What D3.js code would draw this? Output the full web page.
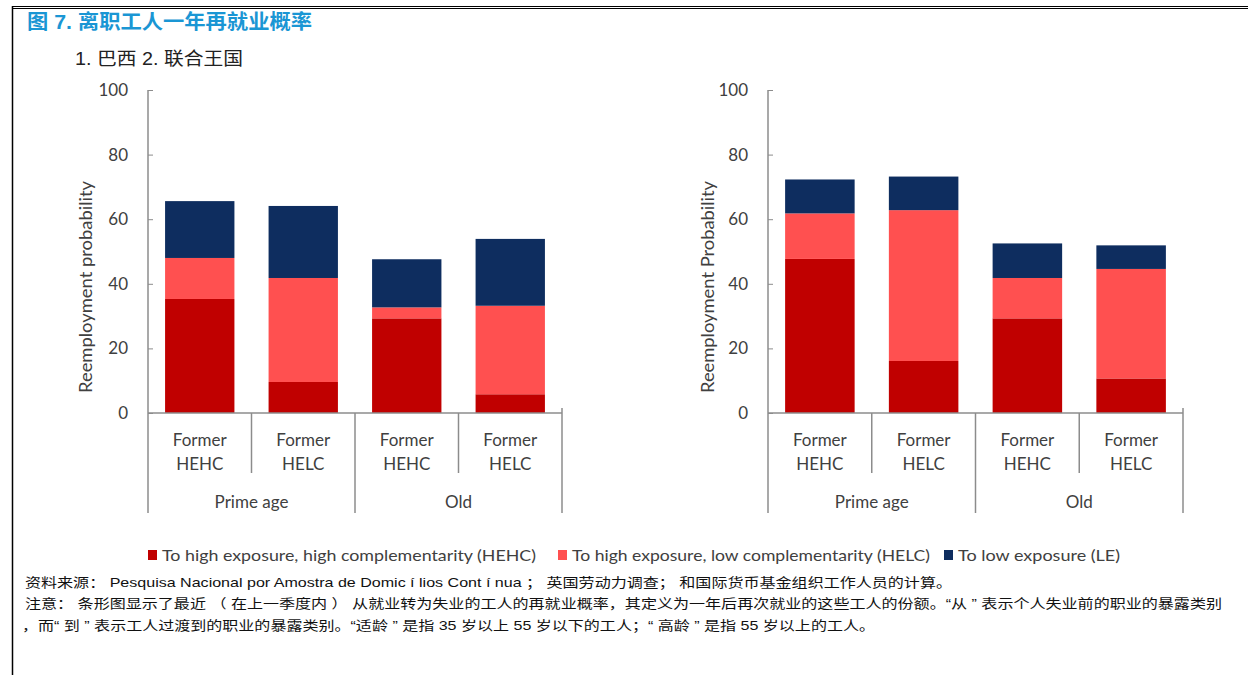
<!DOCTYPE html>
<html>
<head>
<meta charset="utf-8">
<script src="https://cdn.jsdelivr.net/npm/d3@7"></script>
<style>
  body { margin: 0; background: #fff; }
  svg text { font-family: Lato, "Open Sans", sans-serif; }
</style>
</head>
<body>
<svg id="chart" width="1248" height="675"></svg>
<script>
// categorieen en groepen
var categorieen = ["pHEHC", "pHELC", "oHEHC", "oHELC"];
var regel1 = ["Former", "Former", "Former", "Former"];
var regel2 = ["HEHC", "HELC", "HEHC", "HELC"];
var groepen = ["Prime age", "Old"];
var yTicks = [0, 20, 40, 60, 80, 100];

// Brazilie
var brazilieHEHC = [35.3, 9.6, 29.3, 5.8];
var brazilieHELC = [12.7, 32.2, 3.4, 27.4];
var brazilieLE = [17.6, 22.3, 14.9, 20.7];

// Verenigd Koninkrijk
var vkHEHC = [47.7, 16.1, 29.3, 10.7];
var vkHELC = [14.1, 46.7, 12.5, 33.9];
var vkLE = [10.5, 10.4, 10.7, 7.3];

var reeksen = ["HEHC", "HELC", "LE"];
var kleuren = {HEHC: "#c00000", HELC: "#ff5050", LE: "#0e2d5f"};
var legendaTekst = ["To high exposure, high complementarity (HEHC)",
                    "To high exposure, low complementarity (HELC)",
                    "To low exposure (LE)"];

var svg = d3.select("#chart");

// kader
svg.append("line").attr("x1", 12).attr("x2", 1248).attr("y1", 6.5).attr("y2", 6.5)
   .attr("stroke", "#000").attr("stroke-width", 1.2);
svg.append("line").attr("x1", 12).attr("x2", 1248).attr("y1", 8.5).attr("y2", 8.5)
   .attr("stroke", "#000").attr("stroke-width", 1.2);
svg.append("line").attr("x1", 12.5).attr("x2", 12.5).attr("y1", 6).attr("y2", 675)
   .attr("stroke", "#000").attr("stroke-width", 1.5);

// titel
svg.append("text")
   .attr("x", 27).attr("y", 29)
   .style("font-family", "'Liberation Sans', 'Noto Sans CJK SC', sans-serif")
   .attr("font-size", "20px").attr("font-weight", "bold")
   .attr("fill", "#1a96d4")
   .attr("textLength", 285).attr("lengthAdjust", "spacingAndGlyphs")
   .text("图 7. 离职工人一年再就业概率");

svg.append("text")
   .attr("x", 75).attr("y", 65)
   .style("font-family", "'Liberation Sans', 'Noto Sans CJK SC', sans-serif")
   .attr("font-size", "18px").attr("fill", "#222")
   .attr("textLength", 168).attr("lengthAdjust", "spacingAndGlyphs")
   .text("1. 巴西 2. 联合王国");

var y = d3.scaleLinear().domain([0, 100]).range([413, 90]);

function paneel(links, rechts, hehc, helc, le, yTitel, titelX) {
  var g = svg.append("g");
  var x = d3.scaleBand().domain(categorieen).range([links, rechts])
            .paddingInner(0.33).paddingOuter(0.165);

  var rijen = categorieen.map(function(c, i) {
    return {cat: c, HEHC: hehc[i], HELC: helc[i], LE: le[i]};
  });
  var stapels = d3.stack().keys(reeksen)(rijen);

  g.selectAll("g.laag")
   .data(stapels)
   .enter().append("g")
   .attr("class", "laag")
   .attr("fill", function(d) { return kleuren[d.key]; })
   .selectAll("rect")
   .data(function(d) { return d; })
   .enter().append("rect")
   .attr("x", function(d) { return x(d.data.cat); })
   .attr("y", function(d) { return y(d[1]); })
   .attr("width", x.bandwidth())
   .attr("height", function(d) { return y(d[0]) - y(d[1]); });

  // y-as
  var asY = d3.axisLeft(y).tickValues(yTicks).tickSize(-5).tickPadding(20);
  var ya = g.append("g")
     .attr("transform", "translate(" + links + ",0)")
     .call(asY);
  ya.select(".domain").remove();
  ya.selectAll("line").attr("stroke", "#8c8c8c");
  ya.selectAll("text").attr("font-size", "17px").attr("fill", "#404040")
    .style("font-family", "Lato, sans-serif");

  // aslijnen
  var grijs = "#8c8c8c";
  g.append("line").attr("x1", links).attr("x2", links).attr("y1", 90).attr("y2", 513)
   .attr("stroke", grijs).attr("stroke-width", 1.5);
  g.append("line").attr("x1", links).attr("x2", rechts).attr("y1", 413).attr("y2", 413)
   .attr("stroke", grijs).attr("stroke-width", 1.5);
  g.append("line").attr("x1", rechts).attr("x2", rechts).attr("y1", 408).attr("y2", 513)
   .attr("stroke", grijs).attr("stroke-width", 1.5);

  // scheidingslijnen tussen categorieen
  categorieen.forEach(function(c, i) {
    if (i == 0) return;
    var sx = x(c) - x.step() * x.paddingInner() / 2;
    g.append("line").attr("x1", sx).attr("x2", sx)
     .attr("y1", 413).attr("y2", i == 2 ? 513 : 473)
     .attr("stroke", grijs).attr("stroke-width", 1.5);
  });

  // categorie labels
  categorieen.forEach(function(c, i) {
    var cx = x(c) + x.bandwidth() / 2;
    g.append("text").attr("x", cx).attr("y", 446).attr("text-anchor", "middle")
     .attr("font-size", "17px").attr("fill", "#404040").text(regel1[i]);
    g.append("text").attr("x", cx).attr("y", 470).attr("text-anchor", "middle")
     .attr("font-size", "17px").attr("fill", "#404040").text(regel2[i]);
  });

  // groep labels
  groepen.forEach(function(gr, i) {
    var gx = (x(categorieen[i * 2]) + x(categorieen[i * 2 + 1]) + x.bandwidth()) / 2;
    g.append("text").attr("x", gx).attr("y", 508).attr("text-anchor", "middle")
     .attr("font-size", "17px").attr("fill", "#404040").text(gr);
  });

  // y-titel
  g.append("text")
   .attr("transform", "translate(" + titelX + ",287) rotate(-90)")
   .attr("text-anchor", "middle")
   .attr("font-size", "17px").attr("fill", "#404040")
   .attr("textLength", 212).attr("lengthAdjust", "spacingAndGlyphs")
   .text(yTitel);
}

paneel(148, 562, brazilieHEHC, brazilieHELC, brazilieLE, "Reemployment probability", 92);
paneel(768, 1183, vkHEHC, vkHELC, vkLE, "Reemployment Probability", 714);

// legenda
var legX = [148, 558, 944];
var legEind = [536, 930, 1120];
var legenda = svg.append("g");
reeksen.forEach(function(r, i) {
  legenda.append("rect").attr("x", legX[i]).attr("y", 550).attr("width", 9).attr("height", 10)
         .attr("fill", kleuren[r]);
  legenda.append("text").attr("x", legX[i] + 14).attr("y", 561)
         .attr("font-size", "16px").attr("fill", "#404040")
         .attr("textLength", legEind[i] - legX[i] - 14)
         .attr("lengthAdjust", "spacingAndGlyphs")
         .text(legendaTekst[i]);
});

// bron en noten
var voetRegels = [
  "资料来源： Pesquisa Nacional por Amostra de Domic í lios Cont í nua ； 英国劳动力调查； 和国际货币基金组织工作人员的计算。",
  "注意： 条形图显示了最近 （ 在上一季度内 ） 从就业转为失业的工人的再就业概率，其定义为一年后再次就业的这些工人的份额。“从 ” 表示个人失业前的职业的暴露类别",
  "，而“ 到 ” 表示工人过渡到的职业的暴露类别。“适龄 ” 是指 35 岁以上 55 岁以下的工人；“ 高龄 ” 是指 55 岁以上的工人。"
];
var voetX = [25, 25, 22];
var voetY = [587, 608, 630];
var voetEind = [952, 1222, 875];
voetRegels.forEach(function(t, i) {
  svg.append("text").attr("x", voetX[i]).attr("y", voetY[i])
     .style("font-family", "'Liberation Sans', 'Noto Sans CJK SC', sans-serif")
     .attr("font-size", "13px").attr("fill", "#111")
     .attr("textLength", voetEind[i] - voetX[i])
     .attr("lengthAdjust", "spacingAndGlyphs")
     .text(t);
});
</script>
</body>
</html>
